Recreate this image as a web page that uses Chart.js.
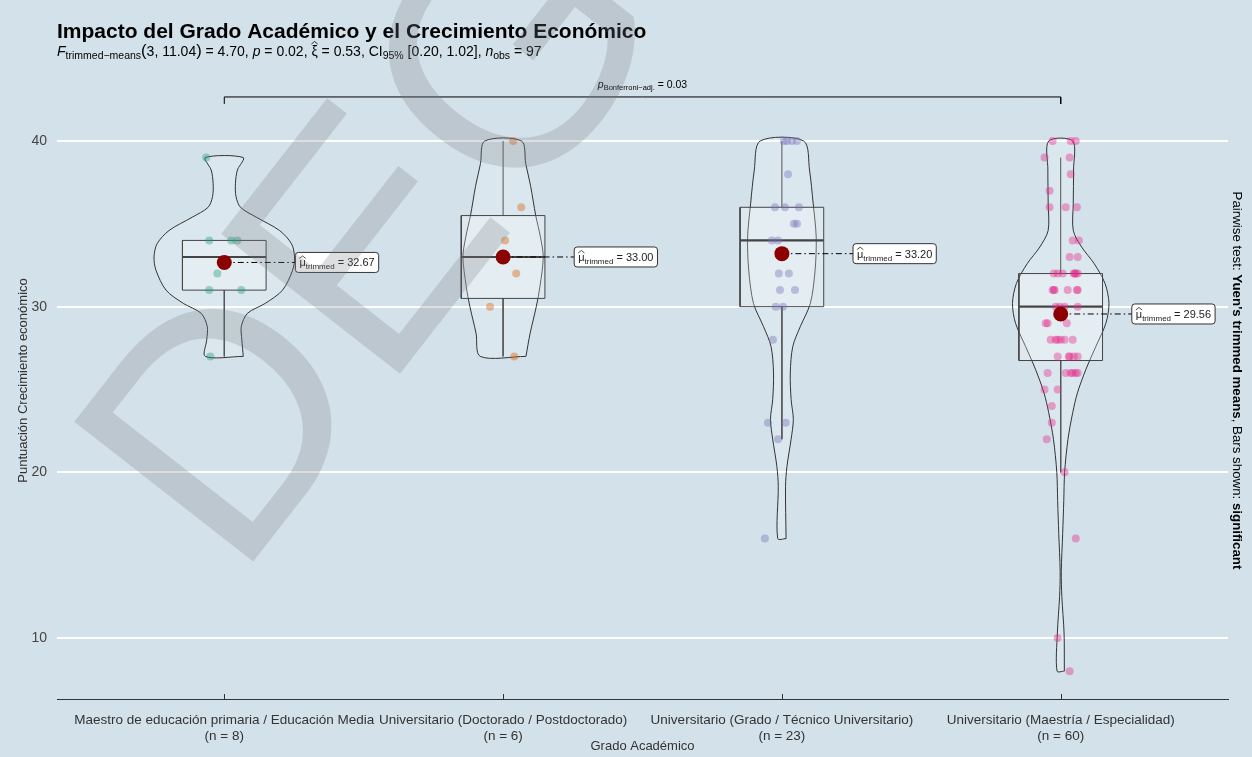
<!DOCTYPE html>
<html>
<head>
<meta charset="utf-8">
<script src="https://cdn.jsdelivr.net/npm/chart.js@4.4.1/dist/chart.umd.min.js"></script>
<style>
  html, body { margin: 0; padding: 0; background: #d3e1ea; }
  #wrap { width: 1252px; height: 757px; }
</style>
</head>
<body>
<div id="wrap"><canvas id="chart" width="1252" height="757"></canvas></div>
<script>
// Datos
const categories = [
  'Maestro de educación primaria / Educación Media',
  'Universitario (Doctorado / Postdoctorado)',
  'Universitario (Grado / Técnico Universitario)',
  'Universitario (Maestría / Especialidad)'
];
const groupSizes = [8, 6, 23, 60];

const grupo1 = [39, 34, 34, 34, 32, 31, 31, 27];
const jitter1 = [-0.065, -0.054, 0.025, 0.047, -0.025, -0.054, 0.061, -0.05];

const grupo2 = [40, 36, 34, 32, 30, 27];
const jitter2 = [0.036, 0.065, 0.007, 0.047, -0.047, 0.04];

const grupo3 = [40, 40, 40, 40, 38, 36, 36, 36, 35, 35, 34, 34, 32, 32, 31, 31, 30, 30, 28, 23, 23, 22, 16];
const jitter3 = [0.007, 0.018, 0.036, 0.054, 0.022, -0.025, 0.011, 0.061, 0.043, 0.054, -0.036, -0.014,
  -0.011, 0.025, -0.007, 0.047, 0.004, -0.022, -0.032, -0.05, 0.014, -0.014, -0.061];

const grupo4 = [40, 40, 40, 39, 39, 38, 37, 36, 36, 36, 34, 34, 33, 33,
  32, 32, 32, 32, 32, 32, 32, 31, 31, 31, 31, 31, 31, 30, 30, 30, 30,
  29, 29, 29, 28, 28, 28, 28, 28, 28, 27, 27, 27, 27, 27,
  26, 26, 26, 26, 26, 26, 25, 25, 24, 23, 22, 20, 16, 10, 8];
const jitter4 = [-0.029, 0.036, 0.054, -0.058, 0.032, 0.036, -0.04, -0.04, 0.018, 0.058, 0.065, 0.043, 0.032, 0.061,
  -0.025, 0.007, 0.047, 0.054, 0.061, -0.011, 0.05, -0.029, -0.025, 0.025, 0.061, -0.022, 0.058, -0.004, 0.061, -0.018, 0.014,
  -0.054, -0.047, 0.022, -0.036, -0.018, 0, 0.043, -0.011, 0.014, -0.011, 0.032, 0.061, 0.047, 0.029,
  -0.047, 0.018, 0.043, 0.061, 0.054, 0.036, -0.058, -0.011, -0.032, -0.032, -0.05, 0.014, 0.054, -0.011, 0.032];

const trimmedMeans = [32.67, 33.00, 33.20, 29.56];
const boxQ1 = [31, 30.5, 30, 26.75];
const boxMedian = [33, 33, 34, 30];
const boxQ3 = [34, 35.5, 36, 32];
const whiskerLow = [27, 27, 22, 20];
const whiskerHigh = [34, 40, 40, 39];

// perfiles de violín (valor, semiancho relativo)
const violinY1 = [27, 28, 28.8, 29.6, 30.2, 31, 32.2, 33, 33.8, 34.6, 35.4, 36, 36.65, 37.45, 38.25, 39];
const violinW1 = [0.068, 0.063, 0.061, 0.083, 0.147, 0.209, 0.245, 0.252, 0.241, 0.198, 0.115, 0.058, 0.042, 0.04, 0.047, 0.068];
const violinY2 = [27, 28.4, 30, 31.2, 33, 34.2, 35.5, 37.25, 38.65, 40];
const violinW2 = [0.082, 0.097, 0.119, 0.132, 0.144, 0.134, 0.117, 0.099, 0.081, 0.066];
const violinY3 = [16, 19.15, 20.35, 22, 23.2, 24.4, 26, 27.6, 28.8, 30.2, 32.2, 34.2, 36.25, 38.25, 40];
const violinW3 = [0.015, 0.013, 0.018, 0.033, 0.041, 0.033, 0.03, 0.039, 0.066, 0.102, 0.119, 0.123, 0.112, 0.099, 0.078];
const violinY4 = [8, 10.3, 12.5, 14, 16.3, 18.3, 20, 22, 23.6, 24.8, 26.2, 27.6, 29, 30.2, 31.4, 32.6, 33.6, 34.6, 36.25, 38.25, 40];
const violinW4 = [0.013, 0.012, 0.004, 0.002, 0.007, 0.011, 0.014, 0.026, 0.043, 0.06, 0.09, 0.126, 0.162, 0.173, 0.159, 0.12, 0.075, 0.045, 0.045, 0.046, 0.043];

const yTicks = [10, 20, 30, 40];
const pBonferroni = '0.03';
const bracketGroups = [0, 3];
const bracketY = 42.66;

const groups = [grupo1, grupo2, grupo3, grupo4];
const jitters = [jitter1, jitter2, jitter3, jitter4];
const violinYs = [violinY1, violinY2, violinY3, violinY4];
const violinWs = [violinW1, violinW2, violinW3, violinW4];
const pointColors = ['rgba(27,158,119,0.4)', 'rgba(217,95,2,0.4)', 'rgba(117,112,179,0.4)', 'rgba(231,41,138,0.4)'];

const FAMILY = '"Liberation Sans", Arial, sans-serif';
const BOX_HALF = 0.15;
const LABEL_OFFSET = 0.255;
Chart.defaults.font.family = FAMILY;

function violinShape(i, ys, ws) {
  const right = ys.map((v, k) => ({ x: i + ws[k], y: v }));
  const left = ys.map((v, k) => ({ x: i - ws[k], y: v })).reverse();
  return [...right, ...left, right[0]];
}

const datasets = [];
groups.forEach((g, i) => {
  datasets.push({
    data: violinShape(i, violinYs[i], violinWs[i]),
    showLine: true, pointRadius: 0, borderColor: '#333333', borderWidth: 1,
    backgroundColor: 'rgba(255,255,255,0.2)', fill: 'shape', tension: 0.3, order: 6
  });
  datasets.push({
    data: [{ x: i - BOX_HALF, y: boxQ1[i] }, { x: i + BOX_HALF, y: boxQ1[i] }, { x: i + BOX_HALF, y: boxQ3[i] },
           { x: i - BOX_HALF, y: boxQ3[i] }, { x: i - BOX_HALF, y: boxQ1[i] }],
    showLine: true, pointRadius: 0, borderColor: '#444444', borderWidth: 1,
    backgroundColor: 'rgba(255,255,255,0.25)', fill: 'shape', tension: 0, order: 5
  });
  datasets.push({
    data: [{ x: i, y: boxQ1[i] }, { x: i, y: whiskerLow[i] }],
    showLine: true, pointRadius: 0, borderColor: '#555555', borderWidth: 1, fill: false, order: 5
  });
  datasets.push({
    data: [{ x: i, y: boxQ3[i] }, { x: i, y: whiskerHigh[i] }],
    showLine: true, pointRadius: 0, borderColor: '#555555', borderWidth: 1, fill: false, order: 5
  });
  datasets.push({
    data: [{ x: i - BOX_HALF, y: boxMedian[i] }, { x: i + BOX_HALF, y: boxMedian[i] }],
    showLine: true, pointRadius: 0, borderColor: '#444444', borderWidth: 2.2, fill: false, order: 4
  });
  datasets.push({
    data: g.map((v, k) => ({ x: i + jitters[i][k], y: v })),
    showLine: false, pointRadius: 4, pointBorderWidth: 0,
    backgroundColor: pointColors[i], borderColor: pointColors[i], order: 3
  });
  datasets.push({
    data: [{ x: i, y: trimmedMeans[i] }, { x: i + LABEL_OFFSET, y: trimmedMeans[i] }],
    showLine: true, pointRadius: 0, borderColor: '#000000', borderWidth: 1,
    borderDash: [6, 3, 1.5, 3], fill: false, order: 2
  });
});
datasets.push({
  data: trimmedMeans.map((m, i) => ({ x: i, y: m })),
  showLine: false, pointRadius: 7.5, pointBorderWidth: 0,
  backgroundColor: '#8b0000', borderColor: '#8b0000', order: 1
});
datasets.push({
  data: [{ x: bracketGroups[0], y: bracketY - 0.42 }, { x: bracketGroups[0], y: bracketY },
         { x: bracketGroups[1], y: bracketY }, { x: bracketGroups[1], y: bracketY - 0.42 }],
  showLine: true, pointRadius: 0, borderColor: '#000000', borderWidth: 1, fill: false, order: 1
});

function font(size, weight, style) {
  return (style || 'normal') + ' ' + (weight || 'normal') + ' ' + size + 'px ' + FAMILY;
}

// texto con sub-índices y acentos circunflejos
function drawRich(ctx, segs, x, y, align) {
  let total = 0;
  segs.forEach(s => { ctx.font = s.font; s.w = ctx.measureText(s.t).width; total += s.w; });
  let cx = align === 'center' ? x - total / 2 : x;
  segs.forEach(s => {
    ctx.font = s.font;
    ctx.fillText(s.t, cx, y + (s.dy || 0));
    if (s.hat) {
      const hy = y + (s.dy || 0) - s.hat;
      ctx.beginPath();
      ctx.moveTo(cx, hy);
      ctx.lineTo(cx + s.w / 2, hy - 2.5);
      ctx.lineTo(cx + s.w, hy);
      ctx.lineWidth = 0.8;
      ctx.strokeStyle = ctx.fillStyle;
      ctx.stroke();
    }
    cx += s.w;
  });
  return total;
}

const background = {
  id: 'background',
  beforeDraw(chart) {
    const ctx = chart.ctx;
    ctx.save();
    ctx.fillStyle = '#d3e1ea';
    ctx.fillRect(0, 0, chart.width, chart.height);
    ctx.restore();
  }
};

const annotations = {
  id: 'annotations',
  afterDatasetsDraw(chart) {
    const { ctx, scales: { x, y } } = chart;
    ctx.save();
    // etiquetas de media recortada
    trimmedMeans.forEach((m, i) => {
      const px = x.getPixelForValue(i + LABEL_OFFSET);
      const py = y.getPixelForValue(m);
      const segs = [
        { t: 'μ', font: font(11), hat: 8 },
        { t: 'trimmed', font: font(8), dy: 3 },
        { t: ' = ' + m.toFixed(2), font: font(11) }
      ];
      let w = 0;
      segs.forEach(s => { ctx.font = s.font; w += ctx.measureText(s.t).width; });
      const bw = w + 8, bh = 20;
      ctx.beginPath();
      ctx.roundRect(px, py - bh / 2, bw, bh, 3);
      ctx.fillStyle = '#ffffff';
      ctx.fill();
      ctx.lineWidth = 1;
      ctx.strokeStyle = '#333333';
      ctx.stroke();
      ctx.fillStyle = '#222222';
      ctx.textBaseline = 'alphabetic';
      ctx.textAlign = 'left';
      drawRich(ctx, segs, px + 4, py + 4, 'left');
    });
    // marcas del eje x
    ctx.strokeStyle = '#333333';
    ctx.lineWidth = 1;
    categories.forEach((c, i) => {
      const px = Math.round(x.getPixelForValue(i)) + 0.5;
      ctx.beginPath();
      ctx.moveTo(px, y.bottom);
      ctx.lineTo(px, y.bottom - 5);
      ctx.stroke();
    });
    // etiqueta del corchete
    ctx.fillStyle = '#000000';
    const bx = (x.getPixelForValue(bracketGroups[0]) + x.getPixelForValue(bracketGroups[1])) / 2;
    drawRich(ctx, [
      { t: 'p', font: font(10.5, 'normal', 'italic') },
      { t: 'Bonferroni−adj.', font: font(7.5), dy: 2 },
      { t: ' = ' + pBonferroni, font: font(10.5) }
    ], bx, y.getPixelForValue(bracketY) - 9, 'center');
    ctx.restore();
  },
  afterDraw(chart) {
    const { ctx, chartArea } = chart;
    ctx.save();
    ctx.textBaseline = 'alphabetic';
    ctx.textAlign = 'left';
    ctx.fillStyle = '#000000';
    ctx.font = font(21, 'bold');
    ctx.fillText('Impacto del Grado Académico y el Crecimiento Económico', 57, 38);
    drawRich(ctx, [
      { t: 'F', font: font(14, 'normal', 'italic') },
      { t: 'trimmed−means', font: font(10.5), dy: 3 },
      { t: '(', font: font(16.5) },
      { t: '3, 11.04', font: font(14) },
      { t: ')', font: font(16.5) },
      { t: ' = 4.70, ', font: font(14) },
      { t: 'p', font: font(14, 'normal', 'italic') },
      { t: ' = 0.02, ', font: font(14) },
      { t: 'ξ', font: font(14), hat: 12 },
      { t: ' = 0.53, CI', font: font(14) },
      { t: '95%', font: font(10.5), dy: 3 },
      { t: ' [0.20, 1.02], ', font: font(14) },
      { t: 'n', font: font(14, 'normal', 'italic') },
      { t: 'obs', font: font(10.5), dy: 3 },
      { t: ' = 97', font: font(14) }
    ], 57, 56, 'left');

    // texto lateral derecho
    ctx.translate(1237, (chartArea.top + chartArea.bottom) / 2);
    ctx.rotate(Math.PI / 2);
    ctx.textBaseline = 'middle';
    drawRich(ctx, [
      { t: 'Pairwise test: ', font: font(13.3) },
      { t: "Yuen's trimmed means", font: font(13.3, 'bold') },
      { t: ', Bars shown: ', font: font(13.3) },
      { t: 'significant', font: font(13.3, 'bold') }
    ], 0, 0, 'center');
    ctx.restore();

    // marca de agua
    ctx.save();
    ctx.translate(385, 245);
    ctx.rotate(-52 * Math.PI / 180);
    ctx.font = '330px ' + FAMILY;
    ctx.textAlign = 'center';
    ctx.textBaseline = 'middle';
    ctx.fillStyle = 'rgba(120,125,130,0.25)';
    ctx.fillText('DEG', 0, 0);
    ctx.restore();
  }
};

new Chart(document.getElementById('chart').getContext('2d'), {
  type: 'scatter',
  data: { datasets: datasets },
  options: {
    responsive: false,
    devicePixelRatio: 1,
    animation: false,
    layout: { padding: { top: 62, right: 24, left: 0, bottom: 0 } },
    plugins: { legend: { display: false }, tooltip: { enabled: false } },
    scales: {
      x: {
        type: 'linear', min: -0.6, max: 3.6,
        afterBuildTicks: s => { s.ticks = categories.map((c, i) => ({ value: i })); },
        afterFit: s => { s.height = 58; },
        grid: { display: false, drawTicks: false },
        border: { display: true, color: '#333333', width: 1 },
        ticks: {
          autoSkip: false, maxRotation: 0, minRotation: 0, padding: 13, color: '#333333',
          font: { size: 13.5 },
          callback: v => [categories[v], '(n = ' + groupSizes[v] + ')']
        },
        title: { display: true, text: 'Grado Académico', color: '#333333', font: { size: 13 }, padding: { top: 0, bottom: 3 } }
      },
      y: {
        min: 6.318, max: 44.77,
        afterBuildTicks: s => { s.ticks = yTicks.map(v => ({ value: v })); },
        afterFit: s => { s.width = 57; },
        grid: { color: '#ffffff', lineWidth: 2, drawTicks: false },
        border: { display: false },
        ticks: { padding: 10, color: '#444444', font: { size: 14 } },
        title: { display: true, text: 'Puntuación Crecimiento económico', color: '#333333', font: { size: 13 }, padding: { top: 16, bottom: 0 } }
      }
    }
  },
  plugins: [background, annotations]
});
</script>
</body>
</html>
